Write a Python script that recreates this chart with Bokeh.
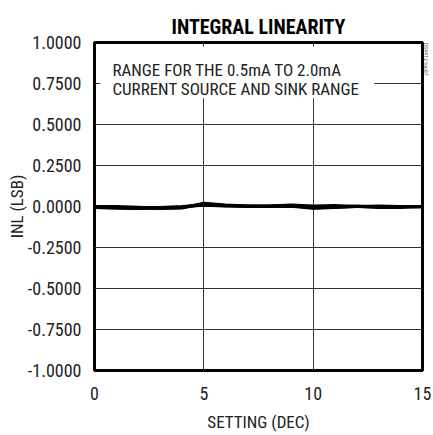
from bokeh.plotting import figure
from bokeh.models import Title, FixedTicker, NumeralTickFormatter, Range1d
from bokeh.core.properties import value
from bokeh.embed import file_html
from bokeh.resources import INLINE

FONT = "'Roboto Condensed', 'Noto Sans Condensed', 'DejaVu Sans Condensed', 'Liberation Sans Narrow', Roboto, sans-serif"

settings = list(range(16))
inl_a = [0.000, -0.005, -0.010, -0.010, -0.005, 0.012, 0.005, 0.000, 0.003, 0.005, -0.008, -0.005, 0.000, 0.003, 0.000, -0.003]
inl_b = [0.000, 0.000, -0.005, -0.012, -0.008, 0.020, 0.008, 0.002, 0.002, 0.008, 0.002, 0.005, 0.000, -0.003, 0.000, 0.000]
inl_c = [-0.005, -0.010, -0.012, -0.006, 0.000, 0.008, 0.003, 0.003, 0.000, 0.002, -0.010, -0.004, 0.002, -0.005, -0.005, 0.000]
x_ticks = [0, 5, 10, 15]
y_ticks = [-1.0, -0.75, -0.5, -0.25, 0.0, 0.25, 0.5, 0.75, 1.0]
title_text = "INTEGRAL LINEARITY"
note_lines = ["RANGE FOR THE 0.5mA TO 2.0mA", "CURRENT SOURCE AND SINK RANGE"]
x_title = "SETTING (DEC)"
y_title = "INL (LSB)"
code_text = "DS4412 toc07"

p = figure(width=432, height=434, output_backend="svg", toolbar_location=None,
           x_range=Range1d(0, 15), y_range=Range1d(-1, 1),
           min_border_left=94, min_border_right=10, min_border_top=42, min_border_bottom=63)

p.add_layout(Title(text=code_text, align="left", text_font=FONT, text_font_size="6px",
                   text_font_style="normal", text_color="#555555", standoff=0,
                   text_line_height=0.8), "right")

p.title.text = title_text
p.title.align = "center"
p.title.vertical_align = "top"
p.title.text_font = FONT
p.title.text_font_style = "bold"
p.title.text_font_size = "20px"
p.title.text_color = "black"
p.title.text_line_height = 1.0
p.title.standoff = 4

p.outline_line_color = "black"
p.outline_line_width = 3
p.outline_line_alpha = 1

for ax in (p.xaxis, p.yaxis):
    ax.axis_line_color = None
    ax.major_tick_line_color = None
    ax.minor_tick_line_color = None
    ax.major_label_text_font = FONT
    ax.major_label_text_font_size = "18px"
    ax.major_label_text_color = "#222222"
    ax.axis_label_text_font = FONT
    ax.axis_label_text_font_size = "17px"
    ax.axis_label_text_font_style = "normal"
    ax.axis_label_text_color = "#222222"

p.xaxis.ticker = FixedTicker(ticks=x_ticks)
p.yaxis.ticker = FixedTicker(ticks=y_ticks)
p.yaxis.formatter = NumeralTickFormatter(format="0.0000")
p.xaxis.axis_label = x_title
p.yaxis.axis_label = y_title
p.xaxis.major_label_standoff = 10
p.yaxis.major_label_standoff = 7
p.xaxis.axis_label_standoff = 9
p.yaxis.axis_label_standoff = -2

p.grid.grid_line_color = "#333333"
p.grid.grid_line_width = 1
p.grid.grid_line_alpha = 1

# white box behind the note
p.quad(left=[0.27], right=[12.8], bottom=[0.66], top=[0.975], fill_color="white", line_color=None)

for ys in (inl_a, inl_b, inl_c):
    p.line(settings, ys, line_color="black", line_width=3.2)

p.text(x=[0.82, 0.82], y=[0.83, 0.715], text=note_lines, text_font=value(FONT),
       text_font_size="17px", text_color="#222222", text_baseline="alphabetic")

open("out.html", "w").write(file_html(p, INLINE))
